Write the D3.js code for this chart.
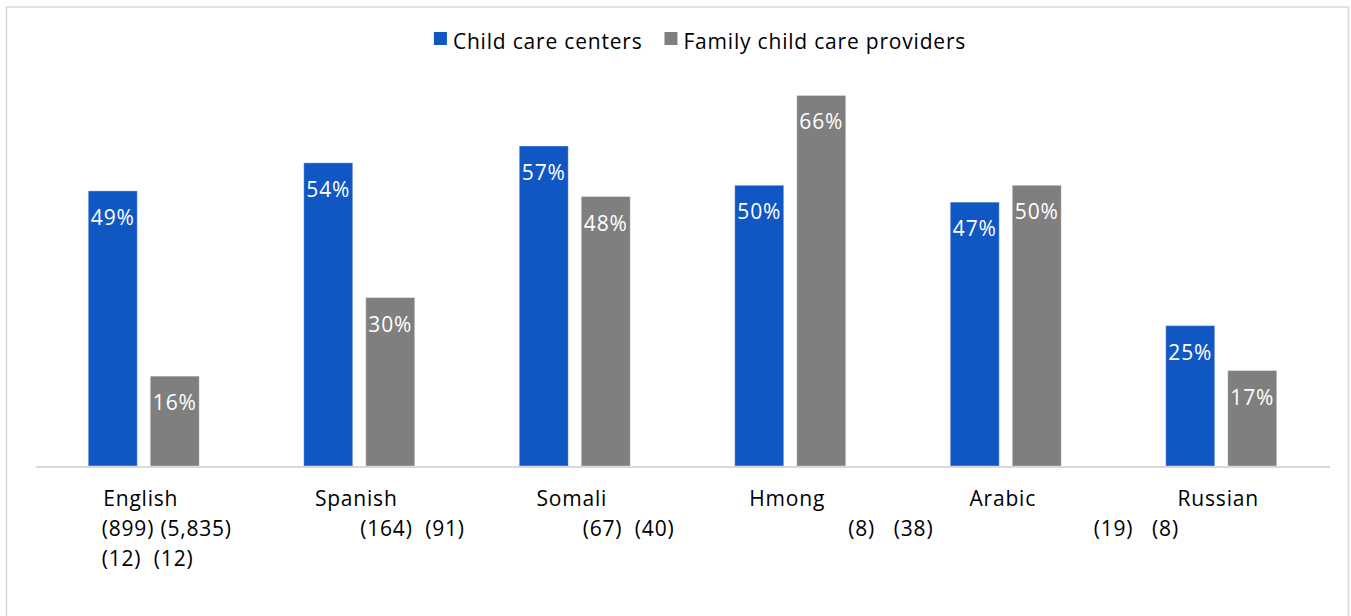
<!DOCTYPE html>
<html>
<head>
<meta charset="utf-8">
<script src="https://cdn.jsdelivr.net/npm/d3@7"></script>
<style>
  body { margin: 0; background: #fff; }
  text { font-family: "Open Sans", "DejaVu Sans", sans-serif; letter-spacing: 0.8px; }
</style>
</head>
<body>
<div id="chart"></div>
<script>

var languages = ["English", "Spanish", "Somali", "Hmong", "Arabic", "Russian"];
var seriesNames = ["Child care centers", "Family child care providers"];
var centerPct = [49, 54, 57, 50, 47, 25];
var familyPct = [16, 30, 48, 66, 50, 17];
// sample sizes printed under each language, one array per text line
var sampleLine1 = ["(899) (5,835)", "(164)  (91)", "(67)  (40)", "(8)   (38)", "(19)   (8)", ""];
var sampleLine2 = ["(12)  (12)", "", "", "", "", ""];

// where the sample-size lines start, relative to the language's centre (layout only)
var noteShift = [-42, 1, 8, 58, 88, 0];

var svgWidth = 1351;
var svgHeight = 616;

var margin = { top: 73, right: 22, bottom: 150, left: 36 };
var width = svgWidth - margin.left - margin.right;
var height = svgHeight - margin.top - margin.bottom;

var colors = ["#1057C4", "#7F7F7F"];

var svg = d3.select("#chart")
  .append("svg")
  .attr("width", svgWidth)
  .attr("height", svgHeight);

// outer frame
svg.append("rect")
  .attr("x", 6.5)
  .attr("y", 7)
  .attr("width", 1342)
  .attr("height", 620)
  .attr("fill", "none")
  .attr("stroke", "#d9d9d9")
  .attr("stroke-width", 1.5);

var chartGroup = svg.append("g")
  .attr("transform", `translate(${margin.left}, ${margin.top})`);

var x0 = d3.scaleBand()
  .domain(languages)
  .range([0, width])
  .paddingInner(0.485)
  .paddingOuter(0.2425);

var x1 = d3.scaleBand()
  .domain(seriesNames)
  .range([0, x0.bandwidth()])
  .paddingInner(0.21);

var yScale = d3.scaleLinear()
  .domain([0, 70])
  .range([height, 0]);

var rows = languages.map(function(lang, i) {
  return {
    lang: lang,
    i: i,
    values: [
      { name: seriesNames[0], value: centerPct[i], k: 0 },
      { name: seriesNames[1], value: familyPct[i], k: 1 }
    ]
  };
});

var groups = chartGroup.selectAll(".lang")
  .data(rows)
  .enter()
  .append("g")
  .attr("class", "lang")
  .attr("transform", d => `translate(${x0(d.lang)}, 0)`);

groups.selectAll("rect")
  .data(d => d.values)
  .enter()
  .append("rect")
  .attr("x", d => x1(d.name))
  .attr("y", d => yScale(d.value))
  .attr("width", x1.bandwidth())
  .attr("height", d => height - yScale(d.value))
  .attr("fill", (d) => colors[d.k])
  .attr("stroke", "rgba(255,255,255,0.35)")
  .attr("stroke-width", 1);

groups.selectAll(".val")
  .data(d => d.values)
  .enter()
  .append("text")
  .attr("class", "val")
  .attr("x", d => x1(d.name) + x1.bandwidth() / 2)
  .attr("y", d => yScale(d.value) + 34)
  .attr("text-anchor", "middle")
  .attr("font-size", "21px")
  .attr("fill", "#fff")
  .text(d => d.value + "%");

// baseline
chartGroup.append("line")
  .attr("x1", 0)
  .attr("x2", width + 1)
  .attr("y1", height + 1)
  .attr("y2", height + 1)
  .attr("stroke", "#d9d9d9")
  .attr("stroke-width", 2);

// category labels
var xAxis = d3.axisBottom(x0).tickSize(0).tickPadding(0);
var axisG = chartGroup.append("g")
  .attr("transform", `translate(0, ${height})`)
  .call(xAxis);
axisG.select(".domain").remove();
axisG.selectAll("text")
  .attr("x", -3)
  .attr("y", 40)
  .attr("dy", 0)
  .attr("font-family", "\"Open Sans\", sans-serif")
  .attr("font-size", "21px")
  .attr("fill", "#000");

var notes = [sampleLine1, sampleLine2];
notes.forEach(function(line, j) {
  chartGroup.selectAll(".note" + j)
    .data(languages)
    .enter()
    .append("text")
    .attr("class", "note" + j)
    .attr("x", (d, i) => x0(d) + x0.bandwidth() / 2 + noteShift[i])
    .attr("y", height + 70 + j * 30)
    .attr("font-size", "21px")
    .attr("fill", "#000")
    .style("white-space", "pre")
    .text((d, i) => line[i]);
});

// legend
var legend = svg.append("g");
var lx = 0;
seriesNames.forEach(function(name, k) {
  var item = legend.append("g").attr("transform", `translate(${lx}, 0)`);
  item.append("rect")
    .attr("x", 0)
    .attr("y", 32)
    .attr("width", 13)
    .attr("height", 13)
    .attr("fill", colors[k]);
  var t = item.append("text")
    .attr("x", 19)
    .attr("y", 49)
    .attr("font-size", "21px")
    .attr("fill", "#000")
    .text(name);
  lx += 19 + t.node().getComputedTextLength() + 22;
});
var legendW = lx - 22;
legend.attr("transform", `translate(${700 - legendW / 2}, 0)`);

</script>
</body>
</html>
